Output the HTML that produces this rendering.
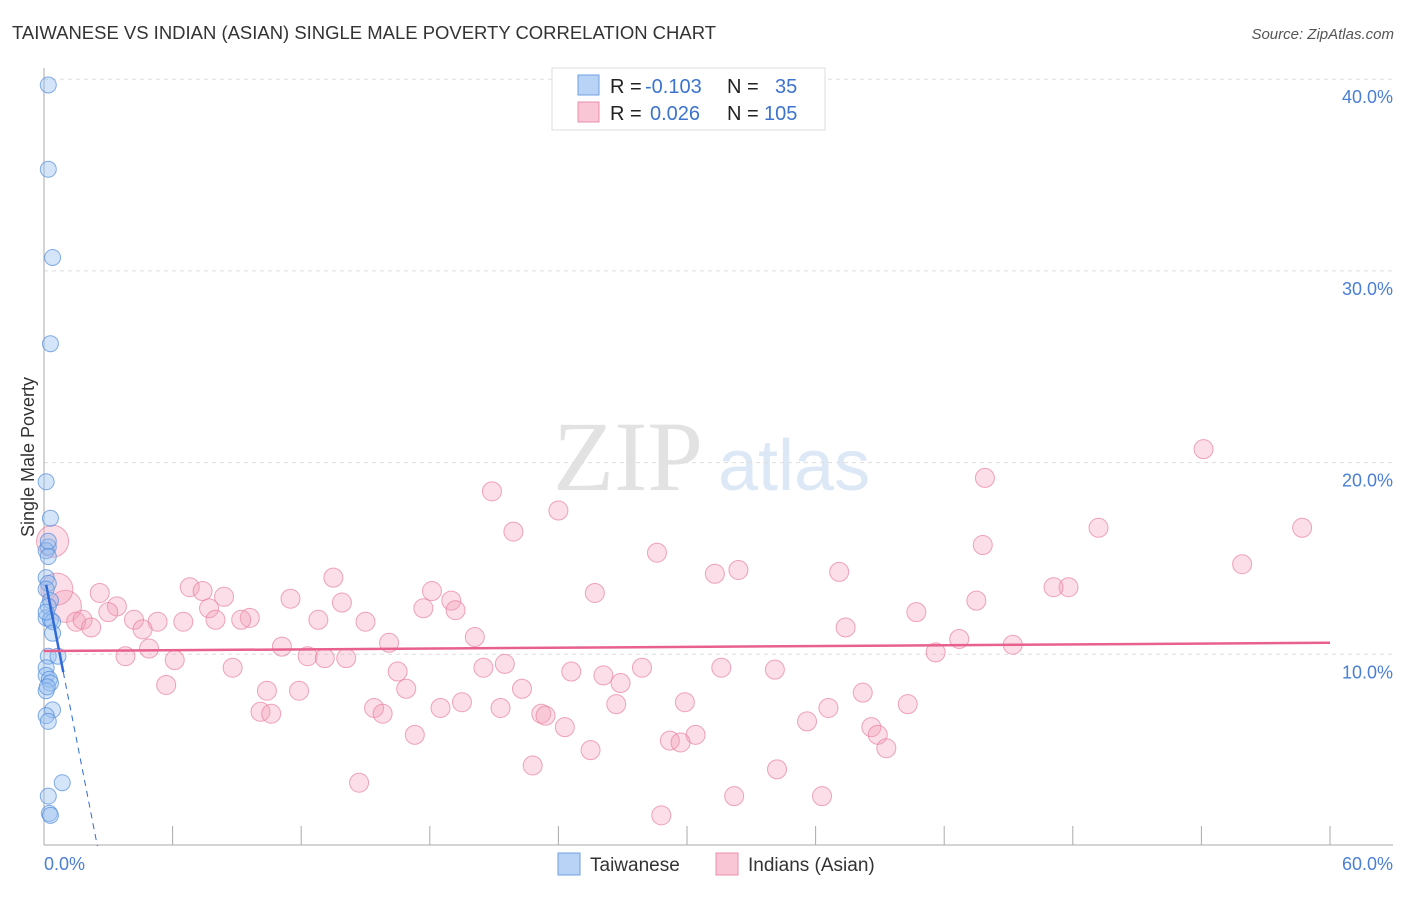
<!DOCTYPE html>
<html><head><meta charset="utf-8"><style>
body{margin:0;background:#fff;font-family:"Liberation Sans",sans-serif;}
svg text{font-family:"Liberation Sans",sans-serif;}
</style></head><body>
<svg id="chart" width="1406" height="892" xmlns="http://www.w3.org/2000/svg">
<text x="12" y="39" font-size="18" fill="#333" textLength="704" lengthAdjust="spacingAndGlyphs">TAIWANESE VS INDIAN (ASIAN) SINGLE MALE POVERTY CORRELATION CHART</text>
<text x="1394" y="39" font-size="15" fill="#555" font-style="italic" text-anchor="end">Source: ZipAtlas.com</text>
<g>
<text x="553" y="490" style="font-family:'Liberation Serif',serif" font-size="100" fill="#e2e2e2">ZIP</text>
<text x="718" y="490" font-size="72" fill="#dde8f6">atlas</text>
</g>
<g id="grid"></g>
<g id="axes"></g>
<g id="pink"></g>
<g id="blue"></g>
<g id="trends"></g>
<text transform="translate(34,457) rotate(-90)" font-size="18" fill="#333" text-anchor="middle">Single Male Poverty</text>
<text x="44" y="870" font-size="18" fill="#4a7fd4">0.0%</text>
<text x="1393" y="870" font-size="18" fill="#4a7fd4" text-anchor="end">60.0%</text>
<g>
<rect x="552" y="68" width="273" height="62" fill="#fff" stroke="#ddd"/>
<rect x="578" y="75" width="21" height="20" fill="#b9d3f6" stroke="#6f9fe0"/>
<rect x="578" y="102" width="21" height="20" fill="#f9c6d5" stroke="#ea8fab"/>
<text x="610" y="93" font-size="20" fill="#222">R =</text><text x="645" y="93" font-size="20" fill="#3c73cf">-0.103</text>
<text x="727" y="93" font-size="20" fill="#222">N =</text><text x="775" y="93" font-size="20" fill="#3c73cf">35</text>
<text x="610" y="120" font-size="20" fill="#222">R =</text><text x="650" y="120" font-size="20" fill="#3c73cf">0.026</text>
<text x="727" y="120" font-size="20" fill="#222">N =</text><text x="764" y="120" font-size="20" fill="#3c73cf">105</text>
</g>
<g>
<rect x="558" y="853" width="22" height="22" fill="#b9d3f6" stroke="#6f9fe0"/>
<text x="590" y="871" font-size="19" fill="#333">Taiwanese</text>
<rect x="716" y="853" width="22" height="22" fill="#f9c6d5" stroke="#ea8fab"/>
<text x="748" y="871" font-size="19" fill="#333">Indians (Asian)</text>
</g>
</svg>
<script>
const yTicks=[10,20,30,40];
const yTickLabels=["10.0%","20.0%","30.0%","40.0%"];
const xTicks=[0,6,12,18,24,30,36,42,48,54,60];
const pinkX=[54.1,43.9,20.9,24.0,21.9,49.2,58.7,43.8,28.6,55.9,32.4,31.3,37.1,13.5,47.8,47.1,6.8,7.4,2.6,18.1,25.7,8.4,11.5,43.5,19.0,13.9,3.4,1.0,7.7,17.7,19.2,3.0,40.7,4.2,9.6,9.2,12.8,5.3,8.0,6.5,15.0,1.5,1.8,2.2,4.6,37.4,20.1,16.1,42.7,11.1,45.2,4.9,41.6,3.8,12.3,13.1,14.1,6.1,21.5,20.5,27.9,31.6,34.1,8.8,16.5,24.6,26.1,26.9,5.7,16.9,22.3,10.4,11.9,38.2,19.5,29.9,40.3,26.7,15.4,18.5,21.3,36.6,10.1,10.6,15.8,23.2,23.4,35.6,24.3,38.6,38.9,17.3,30.4,29.2,29.7,39.3,25.5,22.8,34.2,14.7,32.2,36.3,28.8,0.4,0.6];
const pinkY=[20.7,19.2,18.5,17.5,16.4,16.6,16.6,15.7,15.3,14.7,14.4,14.2,14.3,14.0,13.5,13.5,13.5,13.3,13.2,13.3,13.2,13.0,12.9,12.8,12.8,12.7,12.5,12.5,12.4,12.4,12.3,12.2,12.2,11.8,11.9,11.8,11.8,11.7,11.8,11.7,11.7,11.7,11.8,11.4,11.3,11.4,10.9,10.6,10.8,10.4,10.5,10.3,10.1,9.9,9.9,9.8,9.8,9.7,9.5,9.3,9.3,9.3,9.2,9.3,9.1,9.1,8.9,8.5,8.4,8.2,8.2,8.1,8.1,8.0,7.5,7.5,7.4,7.4,7.2,7.2,7.2,7.2,7.0,6.9,6.9,6.9,6.8,6.5,6.2,6.2,5.8,5.8,5.8,5.5,5.4,5.1,5.0,4.2,4.0,3.3,2.6,2.6,1.6,15.9,13.4];
const blueX=[0.2,0.2,0.4,0.3,0.1,0.3,0.2,0.1,0.2,0.1,0.2,0.1,0.3,0.2,0.1,0.3,0.4,0.4,0.2,0.65,0.1,0.1,0.25,0.3,0.1,0.4,0.1,0.2,0.85,0.2,0.25,0.3,0.15,0.1,0.2];
const blueY=[39.7,35.3,30.7,26.2,19.0,17.1,15.6,15.4,15.1,14.0,13.7,13.4,12.8,12.5,11.9,11.8,11.7,11.1,9.9,9.9,9.3,8.9,8.7,8.5,8.1,7.1,6.8,6.5,3.3,2.6,1.7,1.6,8.3,12.2,15.9];
const blueTrend=[14.2,-5.7];
const pinkTrend=[10.17,0.0072];
const NS='http://www.w3.org/2000/svg';
const X0=44,X1=1330,Y0=846,PY=19.17;
const sx=v=>X0+v/60*(X1-X0);
const sy=v=>Y0-v*PY;
function mk(tag,attrs,parent){const e=document.createElementNS(NS,tag);for(const k in attrs)e.setAttribute(k,attrs[k]);document.getElementById(parent).appendChild(e);return e;}
yTicks.forEach((t,i)=>{
 const l=mk('line',{x1:X0,x2:1393,y1:sy(t),y2:sy(t),stroke:'#ddd','stroke-dasharray':'4,4'},'grid');
 
 
 const tx=mk('text',{x:1393,y:sy(t)+24,'font-size':18,fill:'#4a7fd4','text-anchor':'end'},'grid');
 tx.textContent=yTickLabels[i];
 
 
});
const ax=mk('line',{x1:X0,x2:X0,y1:68,y2:845,stroke:'#aaa'},'axes');


const bx=mk('line',{x1:X0,x2:1393,y1:845,y2:845,stroke:'#aaa'},'axes');


xTicks.forEach(t=>{
 const l=mk('line',{x1:sx(t),x2:sx(t),y1:826,y2:845,stroke:'#aaa'},'axes');
 
 
});
pinkX.forEach((x,i)=>{
 const big=i>=pinkX.length-2||(x===1.0&&pinkY[i]===12.5);
 const c=mk('circle',{cx:sx(x),cy:sy(pinkY[i]),r:big?16:9.5,fill:'rgba(244,160,186,0.35)',stroke:'rgba(232,128,160,0.7)','stroke-width':1},'pink');
 
 
});
blueX.forEach((x,i)=>{
 const c=mk('circle',{cx:sx(x),cy:sy(blueY[i]),r:8,fill:'rgba(150,190,240,0.4)',stroke:'rgba(80,140,220,0.7)','stroke-width':1},'blue');
 
 
});
const bz=-blueTrend[0]/blueTrend[1];
const b1=mk('line',{x1:sx(0.1),y1:sy(blueTrend[0]+blueTrend[1]*0.1),x2:sx(0.9),y2:sy(blueTrend[0]+blueTrend[1]*0.9),stroke:'#2f6ad6','stroke-width':2.5},'trends');


const b2=mk('line',{x1:sx(0.9),y1:sy(blueTrend[0]+blueTrend[1]*0.9),x2:sx(bz),y2:sy(0),stroke:'#2f6ad6','stroke-width':1,'stroke-dasharray':'6,5'},'trends');


const p1=mk('line',{x1:sx(0),y1:sy(pinkTrend[0]),x2:sx(60),y2:sy(pinkTrend[0]+pinkTrend[1]*60),stroke:'#e8618c','stroke-width':2.5},'trends');


</script>
</body></html>
